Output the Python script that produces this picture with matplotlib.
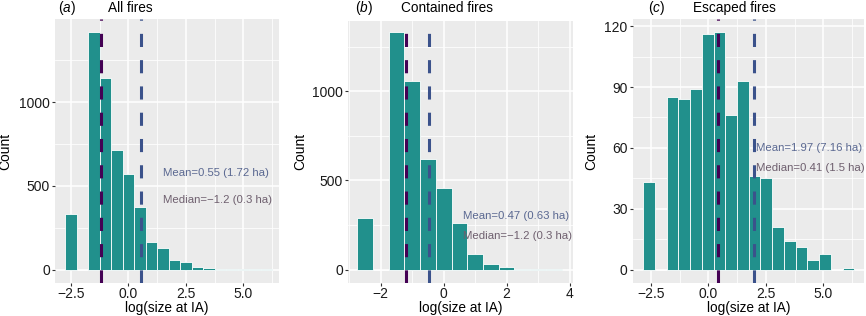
import numpy as np
import matplotlib
matplotlib.use("Agg")
import matplotlib.pyplot as plt

plt.rcParams['font.family'] = ['Liberation Sans', 'DejaVu Sans']
plt.rcParams['mathtext.fontset'] = 'custom'
plt.rcParams['mathtext.rm'] = 'Liberation Sans'
plt.rcParams['mathtext.it'] = 'Liberation Sans:italic'

# histogram bins (log size at IA) and counts
all_centers = [-2.5, -2.0, -1.5, -1.0, -0.5, 0.0, 0.5, 1.0, 1.5, 2.0, 2.5, 3.0,
               3.5, 4.0, 4.5, 5.0, 5.5, 6.0]
all_counts = [335, 0, 1422, 1147, 715, 574, 375, 167, 127, 60, 44, 16, 8, 3, 1, 1, 1, 1]

cont_centers = [-2.5, -2.0, -1.5, -1.0, -0.5, 0.0, 0.5, 1.0, 1.5, 2.0, 2.5, 3.0, 3.5]
cont_counts = [291, 0, 1330, 1056, 621, 456, 259, 88, 32, 13, 2, 1, 1]

esc_centers = [-2.58, -2.07, -1.56, -1.05, -0.54, -0.03, 0.48, 0.99, 1.50, 2.01,
               2.52, 3.03, 3.54, 4.05, 4.56, 5.07, 5.58, 6.09]
esc_counts = [43, 0, 85, 84, 89, 116, 117, 76, 93, 46, 45, 21, 14, 11, 5, 8, 0, 1]

letters = ['a', 'b', 'c']
titles = ['All fires', 'Contained fires', 'Escaped fires']
means = [0.54, -0.46, 1.97]
medians = [-1.2, -1.2, 0.41]
mean_labels = ['Mean=0.55 (1.72 ha)', 'Mean=0.47 (0.63 ha)', 'Mean=1.97 (7.16 ha)']
median_labels = ['Median=\u22121.2 (0.3 ha)', 'Median=\u22121.2 (0.3 ha)', 'Median=0.41 (1.5 ha)']
label_x = [1.5, 0.63, 2.08]
mean_y = [576, 300, 60]
median_y = [419, 191, 50]

xticks = [[-2.5, 0, 2.5, 5.0], [-2, 0, 2, 4], [-2.5, 0, 2.5, 5.0]]
xticklabels = [['\u22122.5', '0.0', '2.5', '5.0'], ['\u22122', '0', '2', '4'],
               ['\u22122.5', '0.0', '2.5', '5.0']]
xminor = [[-1.25, 1.25, 3.75, 6.25], [-3, -1, 1, 3], [-1.25, 1.25, 3.75, 6.25]]
yticks = [[0, 500, 1000], [0, 500, 1000], [0, 30, 60, 90, 120]]
yminor = [[250, 750, 1250], [250, 750, 1250], [15, 45, 75, 105]]
xlims = [(-3.19, 6.56), (-3.03, 4.1), (-3.29, 6.77)]
ylims = [(-80, 1498), (-75, 1395), (-6.5, 123.5)]
widths = [0.5, 0.5, 0.51]

centers = [all_centers, cont_centers, esc_centers]
counts = [all_counts, cont_counts, esc_counts]

W, H = 866, 316
boxes = [(55, 279.3, 19, 283), (348.3, 572.7, 20.7, 283), (632.7, 864, 19, 283)]
ylab_x = [5.5, 300, 591]
title_lx = [58.3, 355, 647.7]
title_tx = [108.3, 401, 692.7]

bar_col = '#21908C'
mean_col = '#3B528B'
med_col = '#440154'

fig = plt.figure(figsize=(W / 100, H / 100), dpi=100)

for i in range(3):
    l, r, t, b = boxes[i]
    ax = fig.add_axes([l / W, 1 - b / H, (r - l) / W, (b - t) / H])
    ax.set_facecolor('#EBEBEB')
    for s in ax.spines.values():
        s.set_visible(False)
    ax.set_axisbelow(True)
    ax.bar(centers[i], counts[i], width=widths[i], color=bar_col,
           edgecolor='white', linewidth=0.6, zorder=2)
    ax.axvline(medians[i], color=med_col, lw=2.2, dashes=(4.3, 4.3), zorder=3)
    ax.axvline(means[i], color=mean_col, lw=2.2, dashes=(4.3, 4.3), zorder=3)
    ax.text(label_x[i], mean_y[i], mean_labels[i], color='#5A6891',
            fontsize=8.2, ha='left', va='center', zorder=4)
    ax.text(label_x[i], median_y[i], median_labels[i], color='#6E5F6E',
            fontsize=8.2, ha='left', va='center', zorder=4)

    ax.set_xlim(*xlims[i])
    ax.set_ylim(*ylims[i])
    ax.set_xticks(xticks[i])
    ax.set_xticklabels(xticklabels[i])
    ax.set_xticks(xminor[i], minor=True)
    ax.set_yticks(yticks[i])
    ax.set_yticks(yminor[i], minor=True)
    ax.grid(which='major', color='white', lw=1.1)
    ax.grid(which='minor', color='white', lw=0.55)
    ax.tick_params(which='major', length=2.5, width=0.8, color='#333333',
                   labelsize=10, labelcolor='#1a1a1a', pad=1.2)
    ax.tick_params(axis='x', which='major', pad=0.5)
    ax.tick_params(which='minor', length=0)

    cx = (l + r) / 2
    fig.text(cx / W, 1 - 315 / H, 'log(size at IA)', fontsize=9.8,
             ha='center', va='bottom')
    fig.text(ylab_x[i] / W, 1 - 151 / H, 'Count', fontsize=10, rotation=90,
             ha='center', va='center')
    fig.text(title_lx[i] / W, 1 - 12 / H, '($%s$)' % letters[i], fontsize=9.8,
             ha='left', va='baseline')
    fig.text(title_tx[i] / W, 1 - 12 / H, titles[i], fontsize=9.8,
             ha='left', va='baseline')

fig.savefig('out.png', dpi=100)
